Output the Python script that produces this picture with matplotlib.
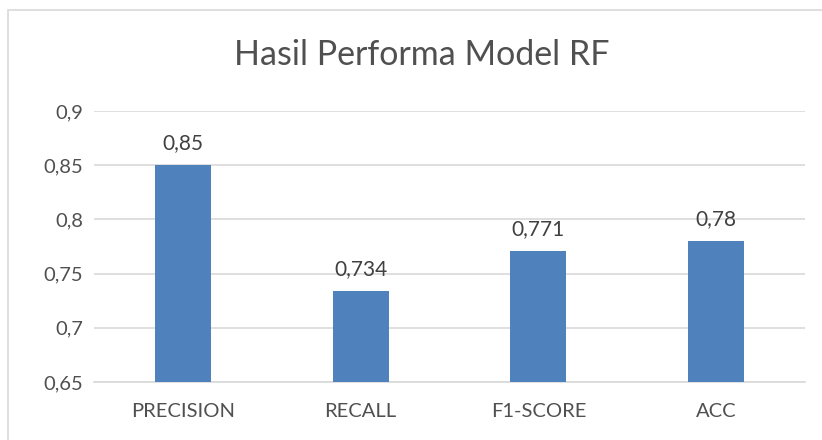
import matplotlib.pyplot as plt
from matplotlib.patches import Rectangle
import numpy as np

categories = ["PRECISION", "RECALL", "F1-SCORE", "ACC"]
values = [0.85, 0.734, 0.771, 0.78]
yticks = [0.65, 0.7, 0.75, 0.8, 0.85, 0.9]

plt.rcParams['font.family'] = ['Lato', 'DejaVu Sans']
text_color = "#505050"

fig = plt.figure(figsize=(8.22, 4.4), dpi=100)
ax = fig.add_axes([94 / 822, 1 - 382 / 440, (805 - 94) / 822, (382 - 111) / 440])

# chart frame
fig.patches.append(Rectangle((8 / 822, -0.05), 1.1, 1 - 10 / 440 + 0.05,
                             transform=fig.transFigure, fill=False,
                             edgecolor="#D9D9D9", linewidth=1.2))

x = np.arange(len(categories))
ax.bar(x, values, width=0.315, color="#4F81BD", zorder=3)

for i, v in zip(x, values):
    ax.text(i, v + 0.011, ("%g" % v).replace(".", ","), ha="center", va="bottom",
            fontsize=15, color="#404040")

ax.set_xlim(-0.5, len(categories) - 0.5)
ax.set_ylim(0.65, 0.9)
ax.set_yticks(yticks)
ax.set_yticklabels([("%g" % t).replace(".", ",") for t in yticks])
ax.set_xticks(x)
ax.set_xticklabels(categories)
ax.tick_params(axis="both", length=0, labelsize=14.5, colors=text_color)
ax.tick_params(axis="y", pad=8)
ax.tick_params(axis="x", pad=15)
ax.grid(axis="y", color="#D9D9D9", linewidth=1.2, zorder=0)
for s in ["top", "right", "left"]:
    ax.spines[s].set_visible(False)
ax.spines["bottom"].set_color("#D9D9D9")
ax.spines["bottom"].set_linewidth(1.2)

fig.text(0.513, 1 - 55 / 440, "Hasil Performa Model RF", ha="center", va="center",
         fontsize=24.5, color=text_color)

fig.savefig("out.png", dpi=100)
